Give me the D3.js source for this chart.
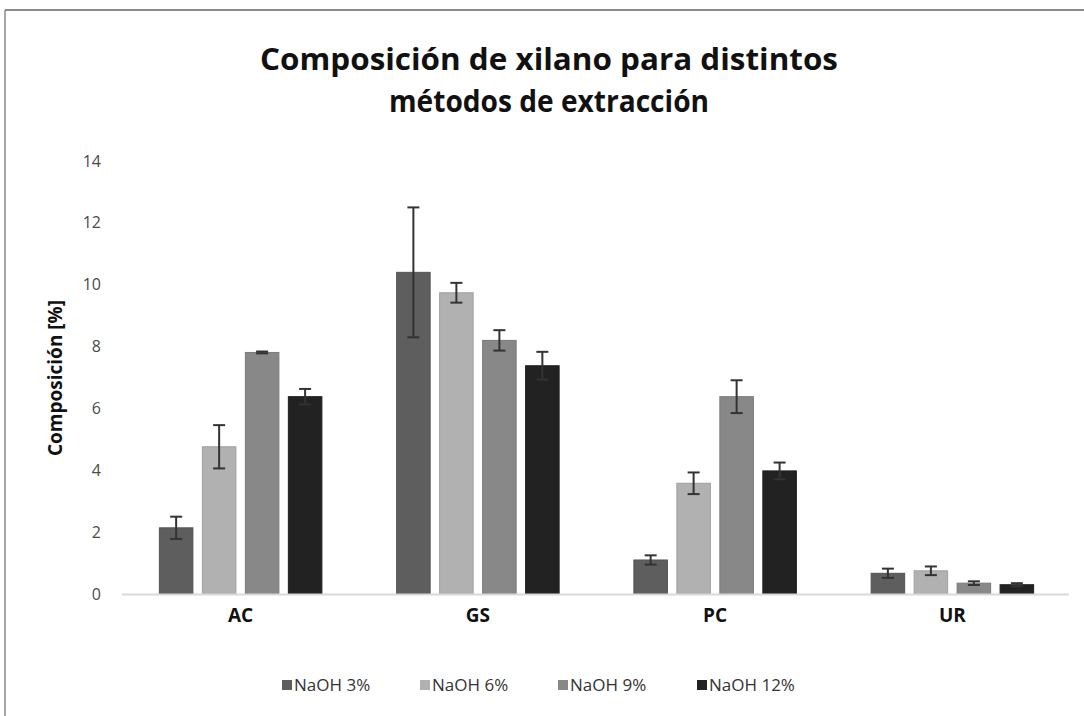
<!doctype html>
<html lang="es">
<head>
<meta charset="UTF-8">
<title>Composición de xilano</title>
<script src="https://cdn.jsdelivr.net/npm/d3@7"></script>
<style>
  body { margin: 0; background: #fff; }
  svg { display: block; font-family: "Open Sans", "DejaVu Sans", sans-serif; }
</style>
</head>
<body>
<div class="canvas"></div>
<script>
  // datos
  const categories = ['AC', 'GS', 'PC', 'UR'];
  const series = ['NaOH 3%', 'NaOH 6%', 'NaOH 9%', 'NaOH 12%'];
  const naoh3 = [2.14, 10.40, 1.10, 0.67];
  const naoh6 = [4.76, 9.74, 3.58, 0.75];
  const naoh9 = [7.81, 8.20, 6.38, 0.35];
  const naoh12 = [6.38, 7.38, 3.98, 0.30];
  const err3 = [0.36, 2.10, 0.15, 0.15];
  const err6 = [0.70, 0.32, 0.35, 0.14];
  const err9 = [0.03, 0.33, 0.53, 0.06];
  const err12 = [0.25, 0.45, 0.27, 0.05];
  const yTicks = [0, 2, 4, 6, 8, 10, 12, 14];
  const colors = ['#5e5e5e', '#b1b1b1', '#888888', '#222222'];

  const values = [naoh3, naoh6, naoh9, naoh12];
  const errors = [err3, err6, err9, err12];

  const width = 1084, height = 716;
  const svg = d3.select('.canvas').append('svg')
    .attr('width', width)
    .attr('height', height);

  // marco
  svg.append('line')
    .attr('x1', 5).attr('x2', width).attr('y1', 10).attr('y2', 10)
    .attr('stroke', '#8a8a8a').attr('stroke-width', 2);
  svg.append('line')
    .attr('x1', 5).attr('x2', 5).attr('y1', 10).attr('y2', height)
    .attr('stroke', '#8a8a8a').attr('stroke-width', 1.5);

  // título
  const title = svg.append('text')
    .attr('text-anchor', 'middle')
    .attr('font-weight', 700)
    .attr('font-size', 30)
    .attr('fill', '#111');
  title.append('tspan').attr('x', 549).attr('y', 70)
    .attr('textLength', 578).attr('lengthAdjust', 'spacingAndGlyphs')
    .text('Composición de xilano para distintos');
  title.append('tspan').attr('x', 549).attr('y', 112)
    .attr('textLength', 320).attr('lengthAdjust', 'spacingAndGlyphs')
    .text('métodos de extracción');

  const x = d3.scaleBand()
    .domain(categories)
    .range([122, 1071]);

  const bw = x.bandwidth();
  const groupW = 162.5;
  const x1 = d3.scaleBand()
    .domain(series)
    .range([(bw - groupW) / 2, (bw + groupW) / 2])
    .paddingInner(0.22);

  const y = d3.scaleLinear()
    .domain([0, 14])
    .range([594, 161]);

  // eje y (solo etiquetas)
  const yAxis = d3.axisLeft(y)
    .tickValues(yTicks)
    .tickSize(0)
    .tickPadding(0);
  const yAxisG = svg.append('g')
    .attr('transform', 'translate(101,0)')
    .call(yAxis);
  yAxisG.select('.domain').remove();
  yAxisG.selectAll('text')
    .attr('font-size', 16)
    .attr('fill', '#4a4a4a')
    .style('font-family', '"Open Sans", sans-serif');

  svg.append('text')
    .attr('transform', 'translate(62,378) rotate(-90)')
    .attr('text-anchor', 'middle')
    .attr('font-weight', 700)
    .attr('font-size', 19)
    .attr('fill', '#111')
    .text('Composición [%]');

  // barras
  const rows = [];
  categories.forEach((c, i) => {
    series.forEach((s, j) => {
      rows.push({ cat: c, ser: s, j: j, v: values[j][i], e: errors[j][i] });
    });
  });

  const groups = svg.append('g');
  groups.selectAll('rect')
    .data(rows)
    .enter()
    .append('rect')
    .attr('x', d => x(d.cat) + x1(d.ser))
    .attr('y', d => y(d.v))
    .attr('width', x1.bandwidth())
    .attr('height', d => y(0) - y(d.v))
    .attr('fill', d => colors[d.j])
    .attr('stroke', d => d3.color(colors[d.j]).darker(0.3))
    .attr('stroke-width', 1);

  // línea base
  svg.append('line')
    .attr('x1', x.range()[0]).attr('x2', 1069)
    .attr('y1', y(0) + 0.5).attr('y2', y(0) + 0.5)
    .attr('stroke', '#d9d9d9').attr('stroke-width', 2);

  // barras de error
  const eb = svg.append('g')
    .attr('stroke', '#333')
    .attr('stroke-width', 2);
  const cx = d => x(d.cat) + x1(d.ser) + x1.bandwidth() / 2;
  eb.selectAll('line.v')
    .data(rows)
    .enter().append('line')
    .attr('class', 'v')
    .attr('x1', cx).attr('x2', cx)
    .attr('y1', d => y(d.v + d.e)).attr('y2', d => y(d.v - d.e));
  eb.selectAll('line.t')
    .data(rows)
    .enter().append('line')
    .attr('class', 't')
    .attr('x1', d => cx(d) - 6).attr('x2', d => cx(d) + 6)
    .attr('y1', d => y(d.v + d.e)).attr('y2', d => y(d.v + d.e));
  eb.selectAll('line.b')
    .data(rows)
    .enter().append('line')
    .attr('class', 'b')
    .attr('x1', d => cx(d) - 6).attr('x2', d => cx(d) + 6)
    .attr('y1', d => y(d.v - d.e)).attr('y2', d => y(d.v - d.e));

  // eje x
  const xAxis = d3.axisBottom(x).tickSize(0).tickPadding(0);
  const xAxisG = svg.append('g')
    .attr('transform', 'translate(0,608)')
    .call(xAxis);
  xAxisG.select('.domain').remove();
  xAxisG.selectAll('text')
    .attr('font-size', 19)
    .attr('font-weight', 700)
    .attr('fill', '#111')
    .style('font-family', '"Open Sans", sans-serif');

  // leyenda
  const legendX = [282, 420, 558, 697];
  const legend = svg.append('g');
  series.forEach((s, j) => {
    legend.append('rect')
      .attr('x', legendX[j]).attr('y', 680)
      .attr('width', 10).attr('height', 10)
      .attr('fill', colors[j]);
    legend.append('text')
      .attr('x', legendX[j] + 12).attr('y', 691)
      .attr('font-size', 17)
      .attr('fill', '#333')
      .text(s);
  });
</script>
</body>
</html>
